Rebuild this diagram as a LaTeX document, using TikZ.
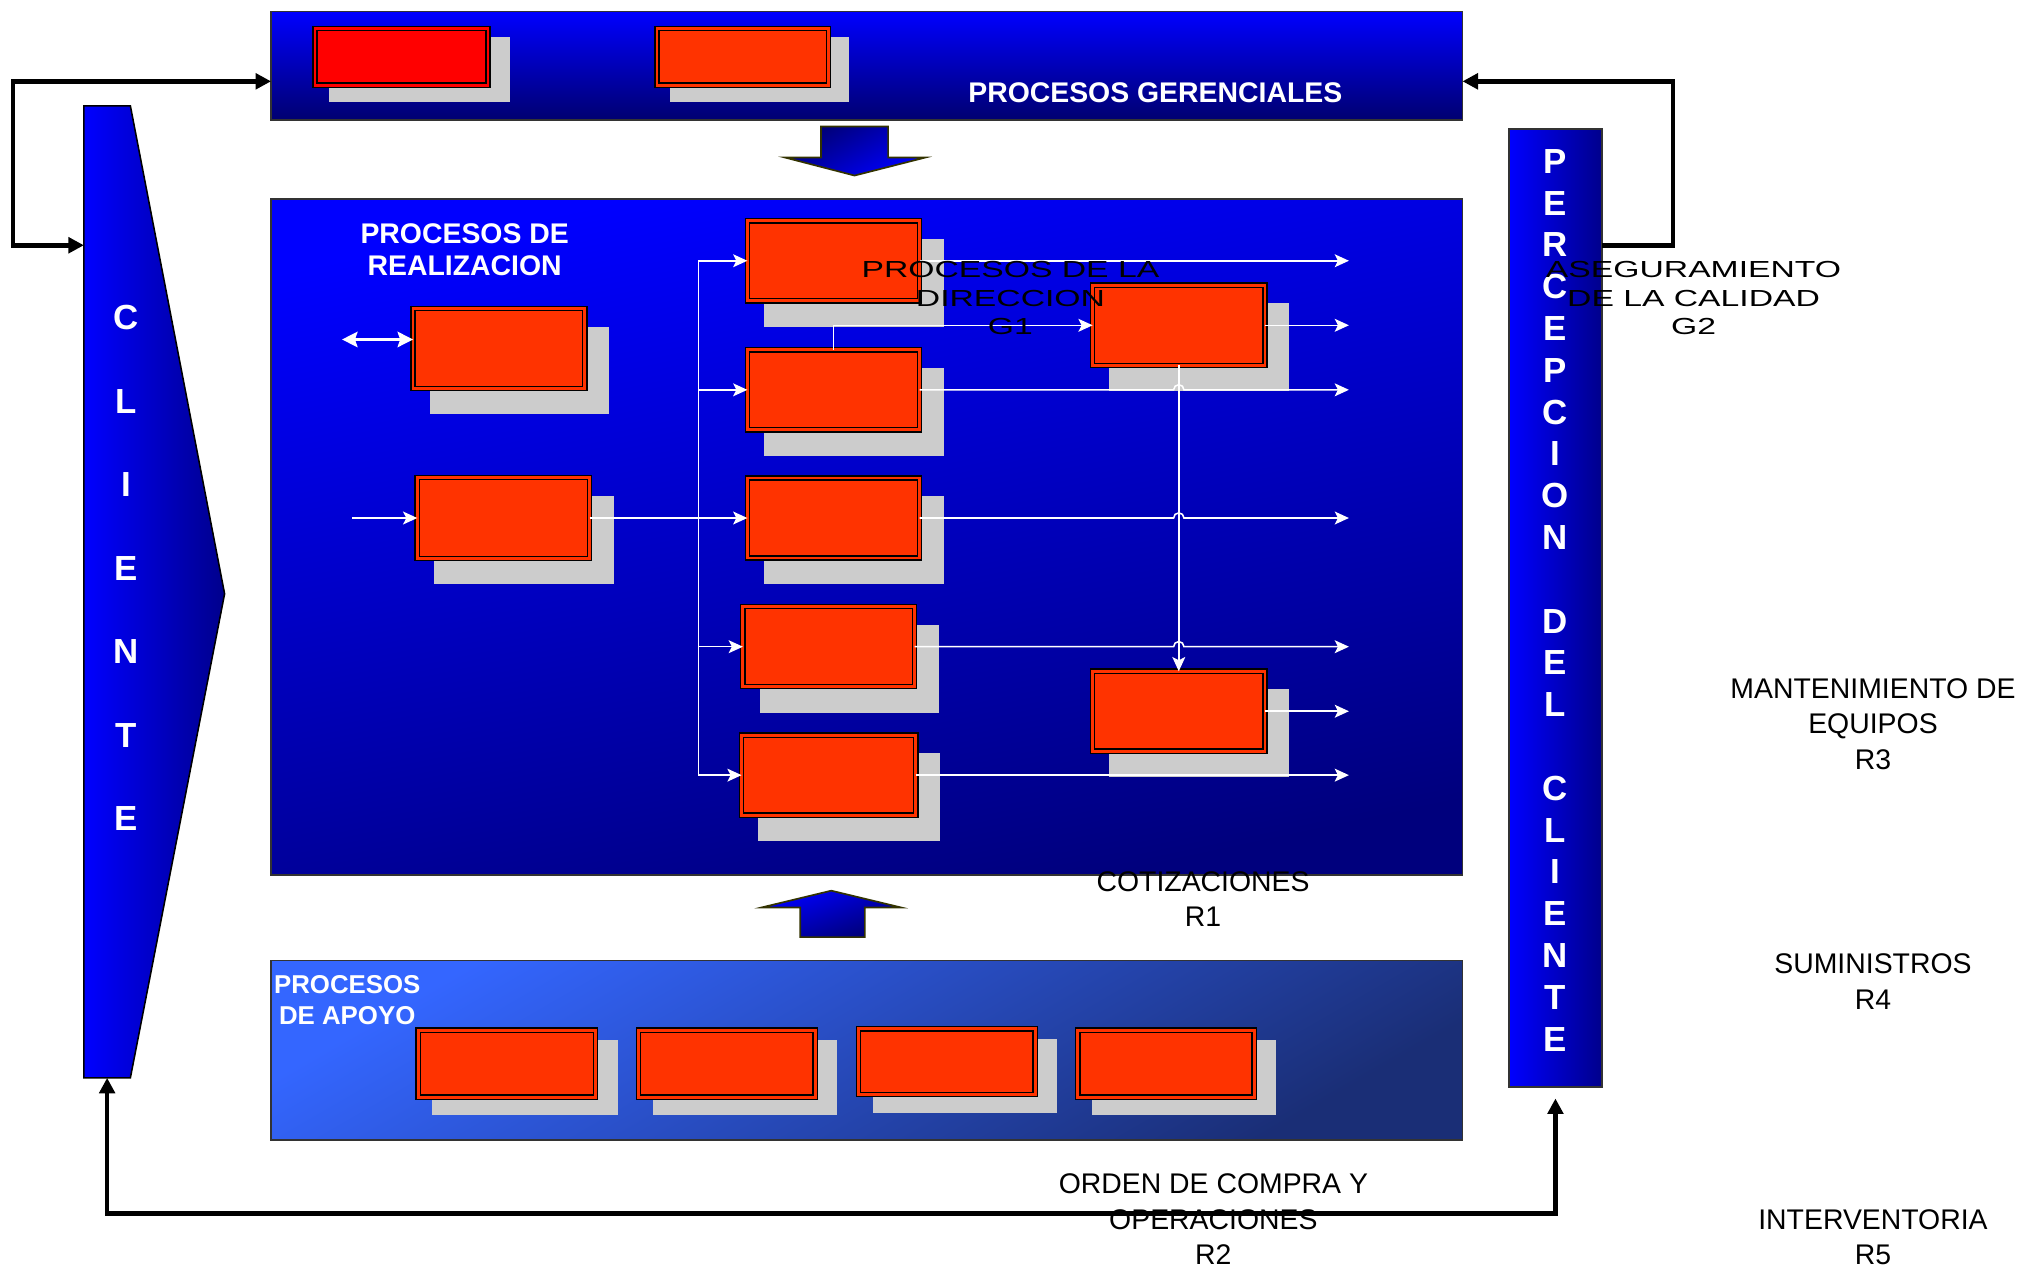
\documentclass[tikz,border=0pt]{standalone}
\usepackage{fontspec}
\setmainfont{Liberation Sans}
\usetikzlibrary{arrows.meta,calc}

\definecolor{boxred}{RGB}{255,51,0}
\definecolor{brightred}{RGB}{255,0,0}
\definecolor{shadegray}{RGB}{204,204,204}
\definecolor{pureblue}{RGB}{0,0,255}
\definecolor{navyA}{RGB}{0,0,112}
\definecolor{navyB}{RGB}{0,0,125}
\definecolor{navyC}{RGB}{0,0,140}
\definecolor{supA}{RGB}{52,102,255}
\definecolor{supB}{RGB}{26,46,118}
\definecolor{olive}{RGB}{51,51,0}

% process box with an offset grey shadow: name, cx, cy, width, height, shadow dx, shadow dy, colour
\newcommand\procbox[8]{%
  \fill[shadegray] ({#2-#4/2+#6},{#3-#5/2+#7}) rectangle ({#2+#4/2+#6+2},{#3+#5/2+#7+2});
  \node[pbox, fill=#8, double=#8, minimum width={(#4-4)*1pt}, minimum height={(#5-4)*1pt}] (#1) at (#2,#3) {};
}
\newcommand\widetext[1]{\scalebox{1.45}[1]{#1}}

\begin{document}
\begin{tikzpicture}[x=1pt,y=-1pt,
  panel/.style={draw=black!80, line width=1.2pt, inner sep=0pt, outer sep=0pt},
  pbox/.style={draw=black, line width=1.05pt, double distance=2.2pt, inner sep=0pt, outer sep=0pt},
  wline/.style={white, line width=1.2pt},
  warrow/.style={wline, -{Stealth[length=11pt,width=10pt,inset=2.5pt]}},
  wboth/.style={white, line width=2pt, {Stealth[length=12pt,width=12pt,inset=2pt]}-{Stealth[length=12pt,width=12pt,inset=2pt]}},
  bline/.style={black, line width=3.5pt},
  btip/.tip={Triangle[length=12pt,width=12pt]},
  lbl/.style={align=center, font=\fontsize{22}{27.5}\selectfont, inner sep=0pt, text=black},
  widelbl/.style={align=center, font=\fontsize{18}{22.3}\selectfont, inner sep=0pt, text=black},
  wlbl/.style={align=center, text=white, inner sep=0pt},
  vletter/.style={text=white, inner sep=0pt, font=\bfseries\fontsize{27}{27}\selectfont}
]
\fill[white] (0,0) rectangle (1568,985);
\useasboundingbox (0,0) rectangle (1568,985);

% ---- panels ----
\node[panel, minimum width=923pt, minimum height=84pt,
      top color=pureblue, bottom color=navyA] (gerencial) at (671.5,51) {};
\node[panel, minimum width=923pt, minimum height=524pt,
      top color=pureblue, bottom color=navyB, shading angle=12] (realizacion) at (671.5,416) {};
\node[panel, minimum width=923pt, minimum height=139pt,
      top color=supA, bottom color=supB, shading angle=30] (apoyo) at (671.5,813.5) {};
\node[panel, minimum width=72pt, minimum height=742pt,
      left color=pureblue, right color=navyC] (percepcion) at (1205,471) {};

% client wedge
\path[draw=black, line width=1.2pt, left color=pureblue, right color=navyC]
  (65,82) coordinate (cli-nw) -- (101,82) coordinate (cli-ne) -- (174,460) coordinate (cli-tip)
  -- (101,835) coordinate (cli-se) -- (65,835) coordinate (cli-sw) -- cycle;
\coordinate (cli-in) at (65,190);
\coordinate (cli-bot) at (83,835);

% block arrows between the panels
\path[draw=olive, line width=1.3pt, top color=navyA, bottom color=pureblue, shading angle=30]
  (636,98) coordinate (down-a) -- (688,98) -- (688,122) -- (717,122) -- (662,136) -- (608,122) -- (636,122) -- cycle;
\path[draw=olive, line width=1.3pt, top color=pureblue, bottom color=navyA, shading angle=20]
  (620,726) coordinate (up-a) -- (670,726) -- (670,703) -- (698,703) -- (644,690) -- (590,703) -- (620,703) -- cycle;

% ---- process boxes ----
\procbox{g1}{311}{44}{138}{48}{13}{9}{brightred}
\procbox{g2}{575.5}{44}{137}{48}{12}{9}{boxred}

\procbox{A}{386.5}{270}{137}{66}{15}{16}{boxred}
\procbox{B}{390}{401.3}{137.5}{66.5}{15}{16}{boxred}
\procbox{C1}{645.7}{202}{137.5}{66}{15}{16}{boxred}
\procbox{C2}{645.7}{302}{137.5}{66}{15}{16}{boxred}
\procbox{C3}{645.7}{401.3}{137.5}{66}{15}{16}{boxred}
\procbox{C4}{642}{501}{137}{66}{15}{16}{boxred}
\procbox{C5}{642}{600.5}{139}{66}{15}{16}{boxred}
\procbox{D1}{913.2}{252}{137.5}{66}{15}{16}{boxred}
\procbox{D2}{913.2}{551}{137.5}{66}{15}{16}{boxred}

\procbox{s1}{392.7}{824}{141.5}{56}{13}{10}{boxred}
\procbox{s2}{563}{824}{141}{56}{13}{10}{boxred}
\procbox{s3}{733.5}{822.5}{141}{55}{13}{10}{boxred}
\procbox{s4}{903.3}{824}{140.5}{56}{13}{10}{boxred}

% ---- white flow lines ----
\coordinate (bus) at (541,0);
\coordinate (out) at (1045,0);
\coordinate (a-in) at (265,263);
\coordinate (b-in) at (273,401.3);

\draw[wboth] (a-in) -- (a-in -| A.west);
\draw[warrow] (b-in) -- (B.west);
\draw[wline] (bus |- C1.west) -- (bus |- C5.west);
\foreach \n in {C1,C2,C4,C5} \draw[warrow] (bus |- \n.west) -- (\n.west);
\draw[warrow] (B.east) -- (C3.west);

\draw[warrow] (C2.north) |- (D1.west);
\draw[warrow] (D1.south) -- (D2.north);

\draw[warrow] (C1.east) -- (C1.east -| out);
\draw[warrow] (D1.east) -- (D1.east -| out);
\foreach \n in {C2,C3,C4}
  \draw[warrow] (\n.east) -- ($(\n.east -| D1.south)+(-4,0)$) arc (180:360:4) -- (\n.east -| out);
\draw[warrow] (D2.east) -- (D2.east -| out);
\draw[warrow] (C5.east) -- (C5.east -| out);

% ---- black feedback connectors ----
\path (gerencial.west) ++(0,12) coordinate (g-in);
\path (gerencial.east) ++(0,12) coordinate (g-out);
\path (percepcion.south) ++(0,9) coordinate (p-in);
\coordinate (left-run) at (10,0);
\coordinate (right-run) at (1296,0);
\coordinate (base-run) at (0,940);

\draw[bline, {btip}-{btip}] (cli-in) -- (cli-in -| left-run) |- (g-in);
\draw[bline, -{btip}] (percepcion.east |- cli-in) -- (cli-in -| right-run) |- (g-out);
\draw[bline, {btip}-{btip}] (cli-bot) -- (cli-bot |- base-run) -| (p-in);

% ---- white headings ----
\node[wlbl, font=\bfseries\fontsize{22}{25}\selectfont] (t-ger) at (895,72) {PROCESOS GERENCIALES};
\node[wlbl, font=\bfseries\fontsize{22}{25}\selectfont] (t-real) at (360,193.5) {PROCESOS DE\\REALIZACION};
\node[wlbl, font=\bfseries\fontsize{20}{24}\selectfont] (t-apo) at (269,775) {PROCESOS\\DE APOYO};

\foreach \ch [count=\i from 0] in {C,L,I,E,N,T,E}
  \node[vletter] (cli-\i) at (98,{246+64.7*\i}) {\ch};
\foreach \ch [count=\i from 0] in {P,E,R,C,E,P,C,I,O,N}
  \node[vletter] (per-\i) at (1205,{125+32.38*\i}) {\ch};
\foreach \ch [count=\i from 11] in {D,E,L}
  \node[vletter] (per-\i) at (1205,{125+32.38*\i}) {\ch};
\foreach \ch [count=\i from 15] in {C,L,I,E,N,T,E}
  \node[vletter] (per-\i) at (1205,{125+32.38*\i}) {\ch};

% ---- black labels ----
\node[widelbl] (lab-g1) at (782.8,231) {\widetext{PROCESOS DE LA}\\\widetext{DIRECCION}\\\widetext{G1}};
\node[widelbl] (lab-g2) at (1312,231) {\widetext{ASEGURAMIENTO}\\\widetext{DE LA CALIDAD}\\\widetext{G2}};
\node[lbl] (lab-r1) at (932,696.5) {COTIZACIONES\\R1};
\node[lbl] (lab-r2) at (940,944.5) {ORDEN DE COMPRA Y\\OPERACIONES\\R2};
\node[lbl] (lab-r3) at (1451,561) {MANTENIMIENTO DE\\EQUIPOS\\R3};
\node[lbl] (lab-r4) at (1451,760.5) {SUMINISTROS\\R4};
\node[lbl] (lab-r5) at (1451,958.5) {INTERVENTORIA\\R5};
\end{tikzpicture}
\end{document}
